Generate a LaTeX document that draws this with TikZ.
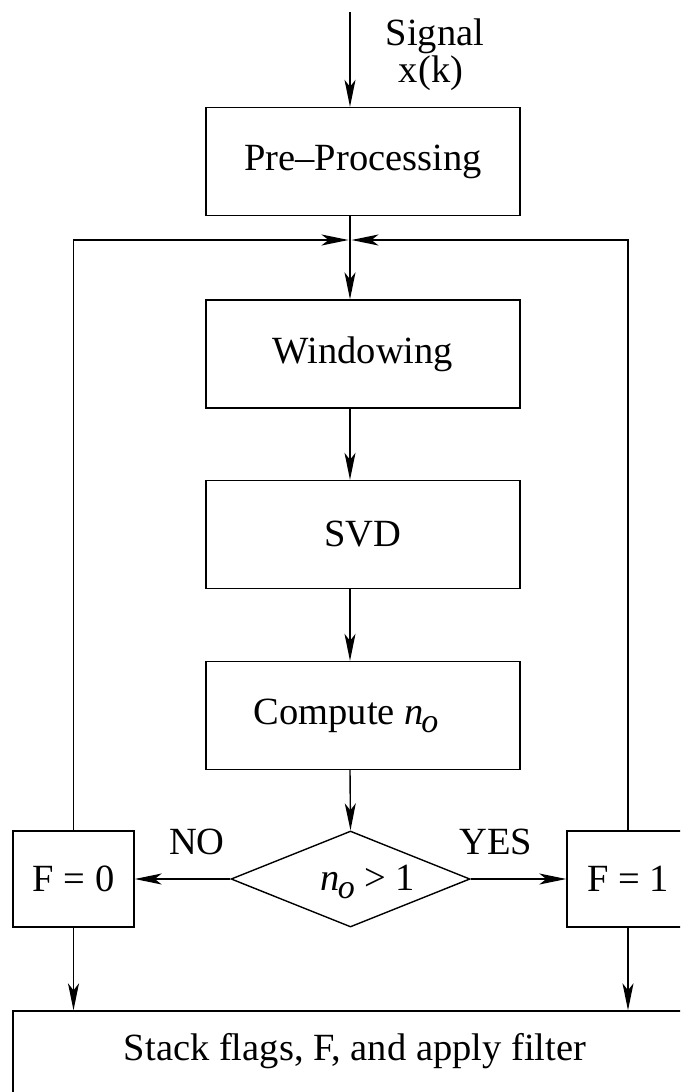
\documentclass[tikz,border=0pt]{standalone}
\usepackage{fontspec}
\setmainfont{Liberation Serif}
\usetikzlibrary{shapes.geometric,arrows.meta}
\newcommand{\nosub}{\textit{n}\kern-0.06em\raisebox{-0.22em}{\fontsize{34}{34}\selectfont\textit{o}}}
\begin{document}
\begin{tikzpicture}[x=1pt,y=-1pt,
  every node/.style={font=\fontsize{38.5}{44}\selectfont, inner sep=0pt},
  line/.style={line width=1.4pt, draw=black},
  arr/.style={line, -{Stealth[length=27pt,width=11pt,inset=7pt]}},
  procbox/.style={line, rectangle, minimum width=314pt, minimum height=108pt},
  flagbox/.style={line, rectangle, minimum width=121pt, minimum height=96pt},
  decbox/.style={line, diamond, minimum width=239pt, minimum height=96pt}]
\useasboundingbox (0,0) rectangle (680,1092);
\clip (0,0) rectangle (680,1092);
\coordinate (axis) at (350,0);
\coordinate (topin) at (350,12);
\coordinate (junc) at (350,240);

\node[procbox] (pre) at (363,161.5) {Pre--Processing};
\node[procbox] (win) at (363,354) {Windowing};
\node[procbox] (svd) at (363,534.5) {SVD};
\node[procbox] (comp) at (363,715.5) {};
\node (comptext) at (346,716) {Compute \nosub};
\node[decbox] (dec) at (350.5,879) {};
\node (dectext) at (368,882) {\nosub\ > 1};
\node[flagbox] (f0) at (73.5,879) {F = 0};
\node[flagbox, minimum width=122pt] (f1) at (628,879) {F = 1};
\node[line, rectangle, minimum width=684pt, minimum height=100pt] (stack) at (355,1061) {};
\node[anchor=base] (stacktext) at (355,1060) {Stack flags, F, and apply filter};

\node[anchor=base] (sig1) at (435,45) {Signal};
\node[anchor=base] (sig2) at (431,82) {x(k)};
\node[anchor=base] (no) at (197,854) {NO};
\node[anchor=base] (yes) at (496,854) {YES};

\draw[arr] (topin) -- (pre.north -| axis);
\draw[arr] (pre.south -| axis) -- (win.north -| axis);
\draw[arr] (win.south -| axis) -- (svd.north -| axis);
\draw[arr] (svd.south -| axis) -- (comp.north -| axis);
\draw[arr] (comp.south -| axis) -- (dec.north);
\draw[arr] (dec.west) -- (f0.east);
\draw[arr] (dec.east) -- (f1.west);
\draw[arr] (f0.north) |- ([xshift=-1.5pt]junc);
\draw[arr] (f1.north) |- ([xshift=1.5pt]junc);
\draw[arr] (f0.south) -- (f0.south |- stack.north);
\draw[arr] (f1.south) -- (f1.south |- stack.north);
\end{tikzpicture}
\end{document}
